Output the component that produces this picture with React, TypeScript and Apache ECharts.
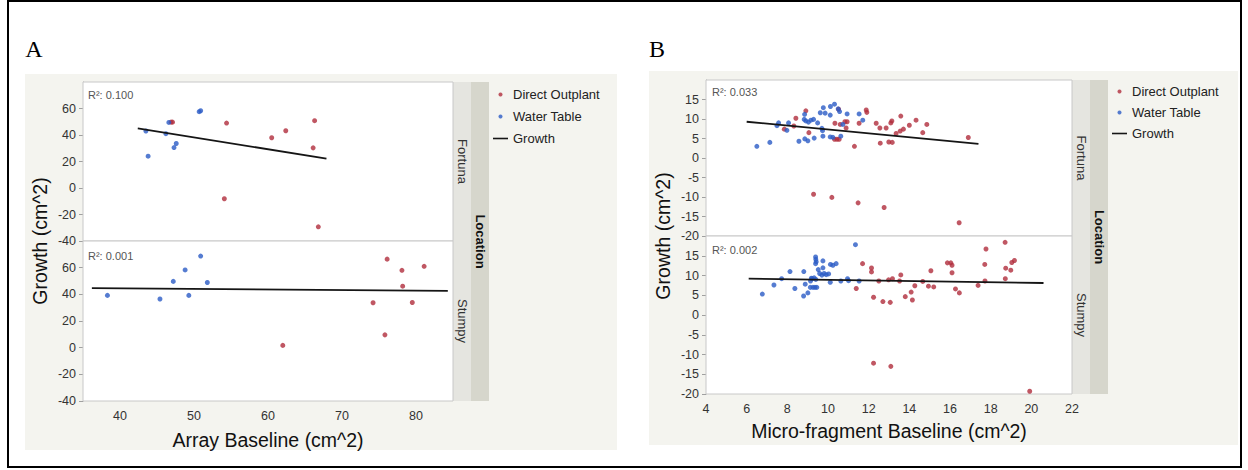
import React, { useEffect, useRef } from "react";
import * as echarts from "echarts";

// ---- Panel A: Array baseline vs growth ----
const aFortunaWater = [
  [43.5, 43], [43.8, 24], [46.2, 41], [46.6, 49.5], [47.3, 30.5], [47.6, 33.6], [50.7, 57.6], [50.9, 58.3],
];
const aFortunaDirect = [
  [46.9, 49.7], [47.1, 49.7], [54.4, 49], [54.1, -8.1], [60.5, 37.9], [62.4, 43.2], [66.3, 50.8], [66.1, 30.3], [66.8, -29.3],
];
const aStumpyWater = [
  [38.3, 39.2], [45.4, 36.5], [47.2, 49.7], [48.8, 58.3], [49.3, 39.2], [50.9, 68.7], [51.8, 48.9],
];
const aStumpyDirect = [
  [62, 1.7], [76.1, 66.4], [78.1, 58], [81.1, 61], [78.2, 46.1], [74.2, 33.7], [79.5, 33.9], [75.8, 9.6],
];
const aFortunaFit = [[42.4, 45.0], [67.9, 22.2]];
const aStumpyFit = [[36.2, 44.6], [84.3, 42.6]];
const aR2 = ["0.100", "0.001"];

// ---- Panel B: Micro-fragment baseline vs growth ----
const bFortunaWater = [
  [6.5, 3.0], [7.14, 4.0], [7.49, 8.3], [7.57, 9.0], [8.06, 9.0], [7.98, 7.1], [8.57, 4.3], [8.85, 11.2],
  [8.83, 9.9], [8.91, 9.5], [9.04, 9.2], [9.16, 9.7], [9.29, 9.9], [8.86, 4.9], [9.01, 4.4], [9.32, 5.1],
  [9.49, 9.0], [9.62, 11.6], [9.77, 12.9], [9.86, 11.5], [9.7, 7.6], [9.73, 7.0], [9.75, 5.6], [10.11, 11.0],
  [10.12, 13.2], [10.32, 13.8], [10.5, 12.6], [10.57, 11.9], [10.11, 5.4], [10.24, 5.3], [10.63, 5.6],
  [10.94, 11.3], [10.73, 8.6], [11.53, 11.3], [11.71, 9.7],
];
const bFortunaDirect = [
  [7.85, 7.4], [8.42, 10.2], [8.32, 8.2], [8.91, 12.1], [9.06, 6.5], [10.34, 8.9], [10.32, 4.8], [10.44, 4.8],
  [10.55, 4.8], [10.52, 12.5], [10.6, 8.6], [10.83, 9.3], [10.94, 9.3], [10.89, 7.7], [11.3, 3.0], [11.53, 8.9],
  [11.88, 12.3], [11.91, 11.7], [12.37, 8.9], [12.57, 3.8], [12.55, 7.7], [12.86, 7.7], [12.99, 4.1], [13.16, 4.0],
  [13.09, 9.0], [13.14, 9.5], [13.35, 6.3], [13.58, 10.75], [13.55, 6.9], [13.71, 7.4], [14.0, 8.4], [14.33, 9.7],
  [14.66, 6.5], [14.86, 8.6], [16.9, 5.25],
  [9.29, -9.3], [10.19, -10.1], [11.48, -11.5], [12.76, -12.7], [16.45, -16.6],
];
const bStumpyWater = [
  [6.77, 5.3], [7.34, 7.6], [7.72, 9.2], [8.13, 11.0], [8.37, 6.7], [8.81, 11.0], [8.8, 4.8], [8.88, 7.8],
  [9.01, 5.6], [9.14, 8.6], [9.18, 9.3], [9.13, 7.0], [9.26, 7.0], [9.36, 7.0], [9.45, 7.0], [9.22, 9.2],
  [9.32, 9.4], [9.4, 9.0], [9.39, 14.7], [9.4, 14.1], [9.42, 13.5], [9.39, 13.0], [9.52, 11.5], [9.59, 10.5],
  [9.7, 10.1], [9.75, 13.7], [9.75, 11.95], [9.81, 10.5], [9.91, 10.2], [10.03, 10.4], [10.12, 12.8],
  [10.24, 12.6], [10.4, 13.0], [10.11, 8.3], [10.63, 8.6], [10.96, 9.2], [11.01, 8.7], [11.35, 17.8], [11.53, 8.6],
];
const bStumpyDirect = [
  [11.39, 6.7], [11.7, 13.0], [12.14, 11.9], [12.14, 10.9], [12.24, 4.5], [12.5, 8.6], [12.7, 3.4], [13.06, 3.2],
  [12.98, 8.9], [13.17, 9.2], [13.52, 8.6], [13.58, 10.15], [13.8, 4.65], [14.09, 5.8], [14.15, 3.8], [14.27, 7.4],
  [14.66, 8.5], [14.94, 7.3], [15.06, 11.2], [15.2, 7.1], [15.87, 13.2], [16.04, 13.2], [16.1, 12.6], [16.1, 10.7],
  [16.27, 6.6], [16.46, 5.6], [17.38, 7.5], [17.71, 12.8], [17.77, 16.7], [17.72, 8.6], [18.71, 18.4],
  [18.74, 11.86], [18.72, 9.2], [18.99, 11.35], [19.04, 13.3], [19.17, 13.8],
  [12.24, -12.2], [13.09, -13.0], [19.92, -19.3],
];
const bFortunaFit = [[6.0, 9.3], [17.4, 3.6]];
const bStumpyFit = [[6.1, 9.2], [20.6, 8.1]];
const bR2 = ["0.033", "0.002"];

const locations = ["Fortuna", "Stumpy"];
const groupNames = ["Direct Outplant", "Water Table", "Growth"];

const FONT = '"Liberation Sans", Arial, Helvetica, sans-serif';
const RED = "#b02d3c";
const BLUE = "#2a5bc6";
const LINE = "#151515";
const PANEL_BG = "#f4f4ef";
const STRIP_1 = "#e5e5e0";
const STRIP_2 = "#d6d6cc";

const grids = [
  { left: 83, top: 82, width: 370, height: 159 },
  { left: 83, top: 241, width: 370, height: 160 },
  { left: 706, top: 80, width: 366, height: 156 },
  { left: 706, top: 236, width: 366, height: 158 },
];

function xAxis(gridIndex: number, min: number, max: number, interval: number, bottom: boolean, name: string, nameGap: number, everyOther: boolean) {
  return {
    type: "value",
    gridIndex,
    min,
    max,
    interval,
    name: bottom ? name : "",
    nameLocation: "middle",
    nameGap,
    nameTextStyle: { fontFamily: FONT, fontSize: 19.5, color: "#111" },
    splitLine: { show: false },
    axisLine: { show: bottom, lineStyle: { color: "#a0a0a0" } },
    axisTick: { show: bottom, length: 4, lineStyle: { color: "#a0a0a0" } },
    axisLabel: {
      show: bottom,
      margin: 8,
      fontFamily: FONT,
      fontSize: 12.5,
      color: "#333",
      formatter: (v: number) => (everyOther && v % 10 !== 0 ? "" : String(v)),
    },
  };
}

function yAxis(gridIndex: number, min: number, max: number, interval: number) {
  return {
    type: "value",
    gridIndex,
    min,
    max,
    interval,
    splitLine: { show: false },
    axisLine: { show: true, lineStyle: { color: "#a0a0a0" } },
    axisTick: { show: true, length: 4, lineStyle: { color: "#a0a0a0" } },
    axisLabel: { showMaxLabel: false, margin: 7, fontFamily: FONT, fontSize: 12.5, color: "#333" },
  };
}

function scatter(name: string, data: number[][], idx: number, color: string) {
  return {
    type: "scatter",
    name,
    xAxisIndex: idx,
    yAxisIndex: idx,
    data,
    symbolSize: 5,
    itemStyle: { color },
  };
}

function fitLine(data: number[][], idx: number) {
  return {
    type: "line",
    name: "Growth",
    xAxisIndex: idx,
    yAxisIndex: idx,
    data,
    symbol: "none",
    lineStyle: { color: LINE, width: 1.8 },
    itemStyle: { color: LINE },
  };
}

function legend(left: number, top: number, gap: number) {
  return {
    orient: "vertical",
    left,
    top,
    padding: 0,
    itemWidth: 15,
    itemHeight: 4,
    itemGap: gap,
    selectedMode: false,
    textStyle: { fontFamily: FONT, fontSize: 13, color: "#222" },
    data: [
      { name: groupNames[0], icon: "circle" },
      { name: groupNames[1], icon: "circle" },
      { name: groupNames[2], icon: "path://M0,0H15V1.6H0Z" },
    ],
  };
}

function text(x: number, y: number, s: string, size: number, opts: any = {}) {
  return {
    type: "text",
    x,
    y,
    rotation: opts.rotation || 0,
    z: 5,
    style: {
      text: s,
      fontFamily: opts.family || FONT,
      fontSize: size,
      fontWeight: opts.bold ? "bold" : "normal",
      fill: opts.color || "#111",
      align: opts.align || "center",
      verticalAlign: "middle",
    },
  };
}

function rect(x: number, y: number, w: number, h: number, fill: string, z: number) {
  return { type: "rect", shape: { x, y, width: w, height: h }, style: { fill }, z, silent: true };
}

function stripGraphics(g1: any, g2: any) {
  const x0 = g1.left + g1.width;
  const top = g1.top;
  const bottom = g2.top + g2.height;
  return [
    rect(x0, top, 18, bottom - top, STRIP_1, 1),
    rect(x0 + 18, top, 18, bottom - top, STRIP_2, 1),
    text(x0 + 9, g1.top + g1.height / 2, locations[0], 13, { rotation: -Math.PI / 2, color: "#333" }),
    text(x0 + 9, g2.top + g2.height / 2, locations[1], 13, { rotation: -Math.PI / 2, color: "#333" }),
    text(x0 + 27, (top + bottom) / 2, "Location", 13, { rotation: -Math.PI / 2, bold: true, color: "#111" }),
  ];
}

export default function App() {
  const ref = useRef<HTMLDivElement>(null);

  useEffect(() => {
    if (!ref.current) return;
    const chart = echarts.init(ref.current, undefined, { renderer: "svg" });

    const option = {
      animation: false,
      backgroundColor: "#ffffff",
      grid: grids.map((g) => ({ ...g, show: true, backgroundColor: "#ffffff", borderColor: "#c8c8c8", borderWidth: 1, z: 2 })),
      xAxis: [
        xAxis(0, 35, 85, 5, false, "", 0, true),
        xAxis(1, 35, 85, 5, true, "Array Baseline (cm^2)", 28.5, true),
        xAxis(2, 4, 22, 2, false, "", 0, false),
        xAxis(3, 4, 22, 2, true, "Micro-fragment Baseline (cm^2)", 27, false),
      ],
      yAxis: [yAxis(0, -40, 80, 20), yAxis(1, -40, 80, 20), yAxis(2, -20, 20, 5), yAxis(3, -20, 20, 5)],
      legend: [legend(493, 88, 9), legend(1112, 85, 8)],
      series: [
        scatter(groupNames[0], aFortunaDirect, 0, RED),
        scatter(groupNames[1], aFortunaWater, 0, BLUE),
        fitLine(aFortunaFit, 0),
        scatter(groupNames[0], aStumpyDirect, 1, RED),
        scatter(groupNames[1], aStumpyWater, 1, BLUE),
        fitLine(aStumpyFit, 1),
        scatter(groupNames[0], bFortunaDirect, 2, RED),
        scatter(groupNames[1], bFortunaWater, 2, BLUE),
        fitLine(bFortunaFit, 2),
        scatter(groupNames[0], bStumpyDirect, 3, RED),
        scatter(groupNames[1], bStumpyWater, 3, BLUE),
        fitLine(bStumpyFit, 3),
      ],
      graphic: [
        // outer frame
        { type: "rect", shape: { x: 8, y: 1, width: 1233, height: 466 }, style: { fill: "none", stroke: "#000", lineWidth: 2 }, z: -2, silent: true },
        // panel backgrounds
        rect(25, 74, 592, 376, PANEL_BG, -1),
        rect(649, 71, 589, 374, PANEL_BG, -1),
        ...stripGraphics(grids[0], grids[1]),
        ...stripGraphics(grids[2], grids[3]),
        // panel letters
        text(34, 49, "A", 24, { family: '"Liberation Serif", "Times New Roman", serif', color: "#000" }),
        text(657, 49, "B", 24, { family: '"Liberation Serif", "Times New Roman", serif', color: "#000" }),
        // y titles
        text(40, 241, "Growth (cm^2)", 19.5, { rotation: Math.PI / 2 }),
        text(663, 236, "Growth (cm^2)", 19.5, { rotation: Math.PI / 2 }),
        // R² annotations
        text(88, 95, "R\u00b2: " + aR2[0], 11, { align: "left", color: "#555" }),
        text(88, 256, "R\u00b2: " + aR2[1], 11, { align: "left", color: "#555" }),
        text(712, 92, "R\u00b2: " + bR2[0], 11, { align: "left", color: "#555" }),
        text(712, 250, "R\u00b2: " + bR2[1], 11, { align: "left", color: "#555" }),
      ],
    };

    chart.setOption(option as any);
    return () => chart.dispose();
  }, []);

  return <div ref={ref} style={{ position: "absolute", left: 0, top: 0, width: 1248, height: 470 }} />;
}
